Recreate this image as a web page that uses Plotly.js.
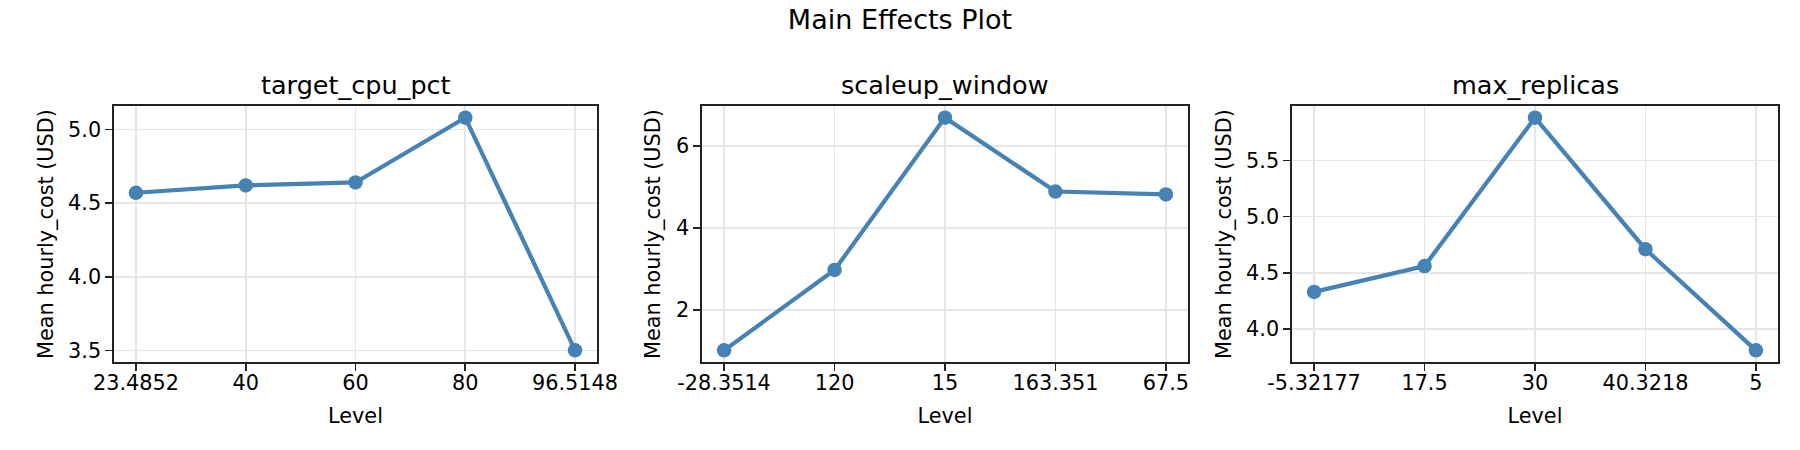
<!DOCTYPE html>
<html>
<head>
<meta charset="utf-8">
<script src="https://cdn.plot.ly/plotly-3.0.1.min.js"></script>
<style>
  html, body { margin: 0; padding: 0; background: #fff; }
  #chart { width: 1800px; height: 450px; }
</style>
</head>
<body>
<div id="chart"></div>
<script>
// factor levels (as labelled on the x axis) and mean response per level
var factorNames = [ 'target_cpu_pct', 'scaleup_window', 'max_replicas' ];

var levelsCpu = [ '23.4852', '40', '60', '80', '96.5148' ];
var meanCpu = [ 4.57, 4.62, 4.64, 5.08, 3.50 ];

var levelsWindow = [ '-28.3514', '120', '15', '163.351', '67.5' ];
var meanWindow = [ 1.02, 2.98, 6.69, 4.89, 4.82 ];

var levelsReplicas = [ '-5.32177', '17.5', '30', '40.3218', '5' ];
var meanReplicas = [ 4.33, 4.56, 5.88, 4.71, 3.81 ];

var yTickStep = [ 0.5, 2, 0.5 ];
var yTickFormat = [ '.1f', 'd', '.1f' ];

var W = 1800, H = 450;
var FONT = 'DejaVu Sans, Liberation Sans, sans-serif';
var LINE = '#4682b4';

// pixel boxes of the three panels
var panelLeft = [ 114, 702, 1292 ];
var panelRight = [ 597, 1188, 1778 ];
var panelTop = 106, panelBottom = 362;

function paddedRange( values ) {
    let lo = Math.min.apply( null, values );
    let hi = Math.max.apply( null, values );
    let pad = ( hi - lo ) * 0.05;
    return [ lo - pad, hi + pad ];
}

var allLevels = [ levelsCpu, levelsWindow, levelsReplicas ];
var allMeans = [ meanCpu, meanWindow, meanReplicas ];

var data = [];
var layout = {
    width: W,
    height: H,
    margin: { l: 0, r: 0, t: 0, b: 0 },
    paper_bgcolor: '#fff',
    plot_bgcolor: '#fff',
    showlegend: false,
    font: { family: FONT, color: '#000', size: 20.8 },
    title: {
        text: 'Main Effects Plot',
        x: 0.5, xanchor: 'center',
        y: 1 - 20 / H, yanchor: 'middle',
        font: { family: FONT, size: 27, color: '#000' }
    },
    annotations: []
};

for ( let i = 0; i < 3; ++i ) {

    let sfx = i === 0 ? '' : String( i + 1 );

    data.push({
        x: allLevels[ i ],
        y: allMeans[ i ],
        xaxis: 'x' + sfx,
        yaxis: 'y' + sfx,
        type: 'scatter',
        mode: 'lines+markers',
        line: { color: LINE, width: 4.2 },
        marker: { color: LINE, size: 14.5 },
        hoverinfo: 'skip'
    });

    let common = {
        showline: true,
        mirror: true,
        linecolor: '#222',
        linewidth: 1.7,
        ticks: 'outside',
        ticklen: 7,
        tickwidth: 1.7,
        tickcolor: '#222',
        showgrid: true,
        gridcolor: '#e6e6e6',
        gridwidth: 1.6,
        zeroline: false,
        tickfont: { family: FONT, size: 20.8, color: '#000' },
        fixedrange: true
    };

    layout[ 'xaxis' + sfx ] = Object.assign( {}, common, {
        type: 'category',
        anchor: 'y' + sfx,
        domain: [ panelLeft[ i ] / W, panelRight[ i ] / W ],
        range: [ -0.2, allLevels[ i ].length - 1 + 0.2 ],
        ticklabelstandoff: -6,
        title: { text: 'Level', standoff: 15, font: { family: FONT, size: 20.8, color: '#000' } }
    });

    layout[ 'yaxis' + sfx ] = Object.assign( {}, common, {
        anchor: 'x' + sfx,
        domain: [ 1 - panelBottom / H, 1 - panelTop / H ],
        range: paddedRange( allMeans[ i ] ),
        dtick: yTickStep[ i ],
        tickformat: yTickFormat[ i ],
        title: { text: 'Mean hourly_cost (USD)', standoff: 9, font: { family: FONT, size: 20.8, color: '#000' } }
    });

    layout.annotations.push({
        text: factorNames[ i ],
        xref: 'paper', yref: 'paper',
        x: ( panelLeft[ i ] + panelRight[ i ] ) / 2 / W,
        y: 1 - 85 / H,
        xanchor: 'center', yanchor: 'middle',
        showarrow: false,
        font: { family: FONT, size: 25.5, color: '#000' }
    });
}

Plotly.newPlot( 'chart', data, layout, { displayModeBar: false, staticPlot: true } );
</script>
</body>
</html>
